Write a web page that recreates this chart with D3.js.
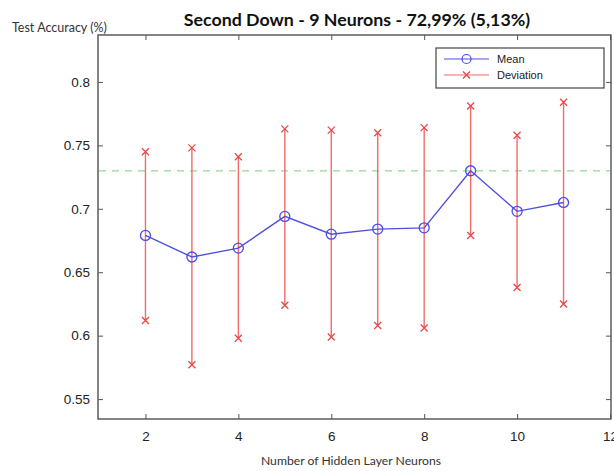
<!DOCTYPE html>
<html><head><meta charset="utf-8">
<script src="https://cdn.jsdelivr.net/npm/d3@7"></script>
<style>body{margin:0;background:#fff}svg{display:block}</style>
</head><body>
<svg id="c" width="614" height="471"></svg>
<script>
const neurons = [2,3,4,5,6,7,8,9,10,11];
const meanAcc = [0.679,0.662,0.669,0.694,0.680,0.684,0.685,0.730,0.698,0.705];
const upperAcc = [0.745,0.748,0.741,0.763,0.762,0.760,0.764,0.781,0.758,0.784];
const lowerAcc = [0.612,0.577,0.598,0.624,0.599,0.608,0.606,0.679,0.638,0.625];
const bestLine = 0.7299;
const xTicks = [2,4,6,8,10,12];
const yTicks = [0.55,0.6,0.65,0.7,0.75,0.8];
const titleText = "Second Down - 9 Neurons - 72,99% (5,13%)";

const svg = d3.select("#c");
const L=98,R=611,T=35,B=419;
const x = d3.scaleLinear().domain([1,12]).range([L+1,R-1]);
const y = d3.scaleLinear().domain([0.5343,0.837]).range([B,T]);
const font = "'Liberation Sans', Arial, sans-serif";

// box
svg.append("rect").attr("x",L).attr("y",T).attr("width",R-L).attr("height",B-T)
  .attr("fill","none").attr("stroke","#333").attr("stroke-width",1.2);

// ticks
const gx = svg.append("g").attr("transform",`translate(0,${B})`)
  .call(d3.axisBottom(x).tickValues(xTicks).tickSize(-5).tickPadding(12).tickFormat(d3.format("d")));
const gxt = svg.append("g").attr("transform",`translate(0,${T})`)
  .call(d3.axisTop(x).tickValues(xTicks).tickSize(-5).tickFormat(""));
const gy = svg.append("g").attr("transform",`translate(${L},0)`)
  .call(d3.axisLeft(y).tickValues(yTicks).tickSize(-5).tickPadding(8).tickFormat(d=>d3.format("")(+d.toFixed(2))));
const gyr = svg.append("g").attr("transform",`translate(${R},0)`)
  .call(d3.axisRight(y).tickValues(yTicks).tickSize(-5).tickFormat(""));
[gx,gxt,gy,gyr].forEach(g=>{
  g.select(".domain").remove();
  g.selectAll(".tick line").attr("stroke","#555");
  g.selectAll("text").attr("fill","#222").style("font-family",font).style("font-size","13.5px");
});

// dashed best line
svg.append("line").attr("x1",L+1).attr("x2",R-1).attr("y1",y(bestLine)).attr("y2",y(bestLine))
  .attr("stroke","#8fdc8f").attr("stroke-width",1.2).attr("stroke-dasharray","7,6");

// deviation bars
const dev = svg.append("g");
neurons.forEach((n,i)=>{
  dev.append("line").attr("x1",x(n)).attr("x2",x(n)).attr("y1",y(upperAcc[i])).attr("y2",y(lowerAcc[i]))
    .attr("stroke","#f26a6a").attr("stroke-width",1.4);
});
function cross(g,cx,cy){
  const s=3.5;
  g.append("path").attr("d",`M${cx-s},${cy-s}L${cx+s},${cy+s}M${cx-s},${cy+s}L${cx+s},${cy-s}`)
    .attr("stroke","#e84848").attr("stroke-width",1.3).attr("fill","none");
}
neurons.forEach((n,i)=>{cross(dev,x(n),y(upperAcc[i]));cross(dev,x(n),y(lowerAcc[i]));});

// mean line
const line = d3.line().x((d,i)=>x(neurons[i])).y(d=>y(d));
svg.append("path").datum(meanAcc).attr("d",line).attr("fill","none")
  .attr("stroke","#5050e0").attr("stroke-width",1.4);
svg.append("g").selectAll("circle").data(meanAcc).join("circle")
  .attr("cx",(d,i)=>x(neurons[i])).attr("cy",d=>y(d)).attr("r",5)
  .attr("fill","none").attr("stroke","#4a4ae8").attr("stroke-width",1.3);

// legend
const lg = svg.append("g");
lg.append("rect").attr("x",436).attr("y",48).attr("width",168).attr("height",40)
  .attr("fill","#fff").attr("stroke","#333").attr("stroke-width",1.1);
lg.append("line").attr("x1",444).attr("x2",489).attr("y1",59).attr("y2",59).attr("stroke","#5050e0").attr("stroke-width",1.2);
lg.append("circle").attr("cx",466.5).attr("cy",59).attr("r",4.5).attr("fill","none").attr("stroke","#4a4ae8").attr("stroke-width",1.2);
lg.append("line").attr("x1",444).attr("x2",489).attr("y1",75).attr("y2",75).attr("stroke","#f26a6a").attr("stroke-width",1.2);
cross(lg,466.5,75);
lg.append("text").attr("x",497).attr("y",63).text("Mean").style("font-family",font).style("font-size","11px").attr("fill","#222");
lg.append("text").attr("x",497).attr("y",79).text("Deviation").style("font-family",font).style("font-size","11px").attr("fill","#222");

// titles
svg.append("text").attr("x",357).attr("y",26).attr("text-anchor","middle").text(titleText)
  .style("font-family","Lato, 'Open Sans', sans-serif").style("font-weight","bold").style("font-size","17.8px").attr("fill","#111");
svg.append("text").attr("x",12).attr("y",32).text("Test Accuracy (%)")
  .style("font-family","Lato, 'Open Sans', sans-serif").style("font-size","12.5px").attr("fill","#333");
svg.append("text").attr("x",351).attr("y",465).attr("text-anchor","middle").text("Number of Hidden Layer Neurons")
  .style("font-family","Lato, 'Open Sans', sans-serif").style("font-size","12.2px").attr("fill","#333");
</script>
</body></html>
